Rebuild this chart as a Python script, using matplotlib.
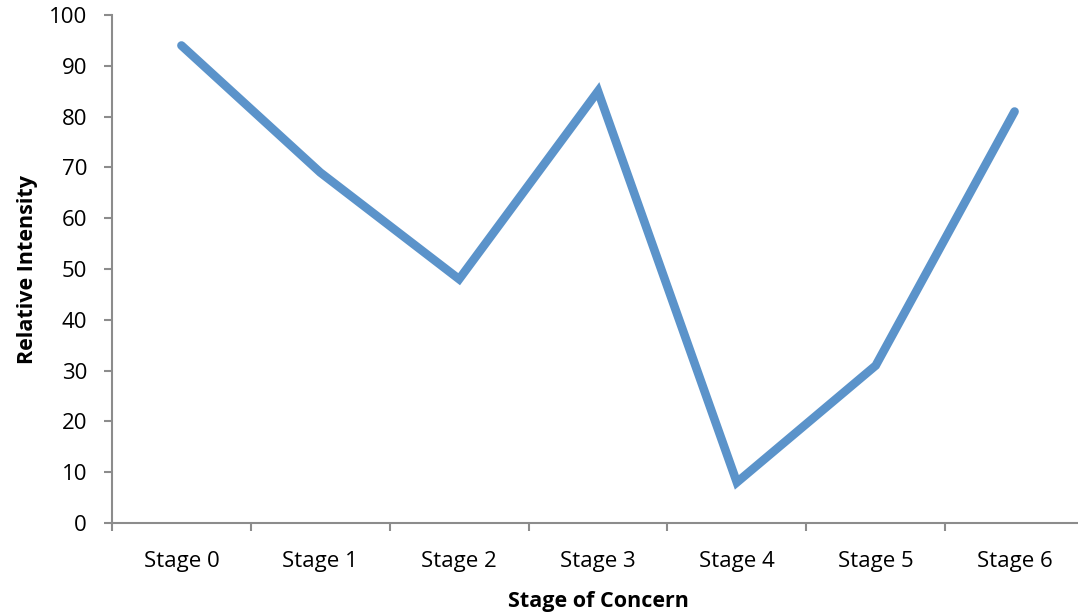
import matplotlib
matplotlib.use("Agg")
import matplotlib.pyplot as plt

stages = ["Stage 0", "Stage 1", "Stage 2", "Stage 3", "Stage 4", "Stage 5", "Stage 6"]
intensity = [94, 69, 48, 85, 8, 31, 81]
y_ticks = list(range(0, 101, 10))

plt.rcParams["font.family"] = ["Open Sans", "DejaVu Sans"]

fig = plt.figure(figsize=(10.78, 6.15), dpi=100)
ax = fig.add_axes([112 / 1078, 92 / 615, 972 / 1078, 508 / 615])

x = range(len(stages))
ax.plot(x, intensity, color="#5B93CA", lw=6.2, solid_capstyle="round",
        solid_joinstyle="miter", clip_on=False)

ax.set_xlim(-0.5, len(stages) - 0.5)
ax.set_ylim(0, 100)
ax.set_yticks(y_ticks)

# category labels centred, tick marks on the boundaries
ax.set_xticks(list(x))
ax.set_xticklabels(stages)
ax.set_xticks([i - 0.5 for i in range(len(stages) + 1)], minor=True)
ax.tick_params(axis="x", which="major", length=0, pad=20, labelsize=16)
ax.tick_params(axis="x", which="minor", length=6, width=1.5, color="#8C8C8C",
               direction="out")
ax.tick_params(axis="y", length=6, width=1.5, color="#8C8C8C", direction="out",
               pad=12, labelsize=16)

for side in ("top", "right"):
    ax.spines[side].set_visible(False)
for side in ("left", "bottom"):
    ax.spines[side].set_color("#8C8C8C")
    ax.spines[side].set_linewidth(1.5)

ax.set_xlabel("Stage of Concern", fontsize=15.5, fontweight="bold", labelpad=14)
ax.set_ylabel("Relative Intensity", fontsize=15.5, fontweight="bold", labelpad=8)

fig.savefig("out.png", dpi=100)
